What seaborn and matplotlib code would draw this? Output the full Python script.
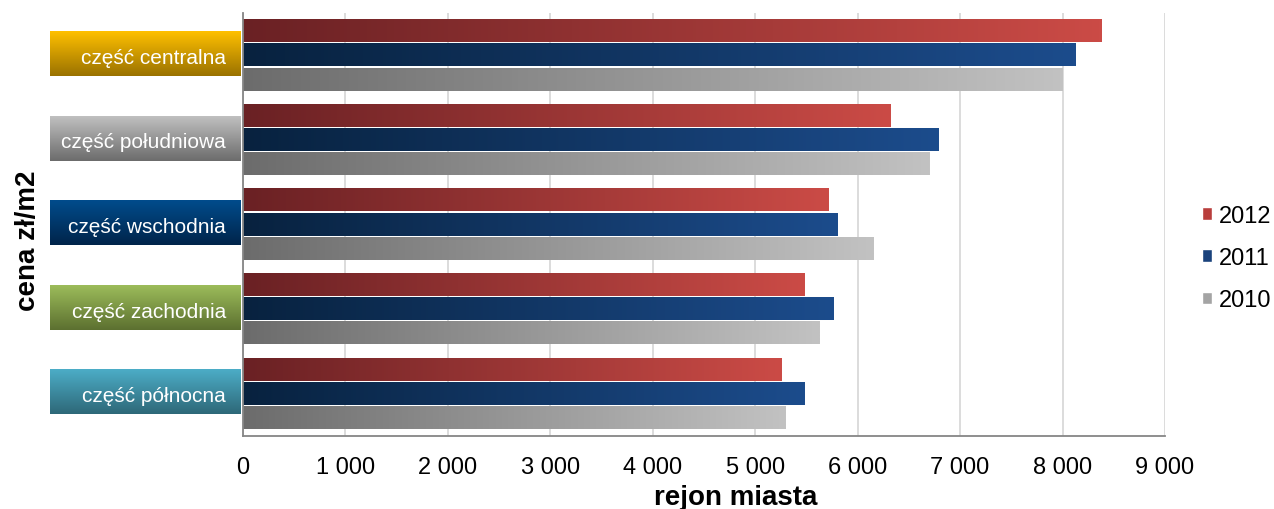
import numpy as np
import pandas as pd
import matplotlib
matplotlib.use("Agg")
import matplotlib.pyplot as plt
import matplotlib.transforms as mtransforms
import seaborn as sns
from matplotlib.colors import LinearSegmentedColormap
from matplotlib.patches import Patch
from matplotlib.ticker import FuncFormatter, FixedLocator

# ── Dane ──────────────────────────────────────────────────────────────────────

regions = ["część centralna", "część południowa", "część wschodnia",
           "część zachodnia", "część północna"]
years = ["2012", "2011", "2010"]
price_2012 = [8380, 6320, 5720, 5480, 5260]
price_2011 = [8130, 6790, 5800, 5760, 5480]
price_2010 = [8000, 6700, 6150, 5630, 5300]

# ── Kolory (gradienty) ───────────────────────────────────────────────────────

BAR_GRAD = {                       # lewy koniec -> prawy koniec
    "2012": ("#6A2124", "#CB4B46"),
    "2011": ("#08223F", "#1C4C8C"),
    "2010": ("#6C6C6C", "#C2C2C2"),
}
LEGEND_COL = {"2012": "#B93E3C", "2011": "#1A427C", "2010": "#A4A4A4"}
BOX_GRAD = [                       # góra -> dół
    ("#FFC000", "#9A7200"),
    ("#C0C0C0", "#6C6C6C"),
    ("#004C8C", "#00244A"),
    ("#9CBC5A", "#5C7030"),
    ("#4CADC7", "#2E6878"),
]
AXIS_COL = "#868686"
PX = 72 / 100                      # piksele -> punkty

sns.set_style("white")
plt.rcParams["font.family"] = ["Liberation Sans", "DejaVu Sans"]

df = pd.DataFrame({
    "rejon": regions * 3,
    "rok": [y for y in years for _ in regions],
    "cena": price_2012 + price_2011 + price_2010,
})

fig = plt.figure(figsize=(12.74, 5.10), dpi=100)
ax = fig.add_axes([243 / 1274, 73 / 510, 922 / 1274, 423 / 510])

sns.barplot(data=df, x="cena", y="rejon", hue="rok", hue_order=years,
            order=regions, orient="h", width=0.86, errorbar=None,
            saturation=1, legend=False, ax=ax)

# słupki -> gradient poziomy
grad_h = np.linspace(0, 1, 256).reshape(1, -1)
for year, cont in zip(years, ax.containers):
    cmap = LinearSegmentedColormap.from_list(year, BAR_GRAD[year])
    for p in cont.patches:
        x0, y0, w, h = p.get_x(), p.get_y(), p.get_width(), p.get_height()
        p.set_visible(False)
        ax.imshow(grad_h, cmap=cmap, aspect="auto", zorder=2,
                  extent=(x0, x0 + w, y0 + h - 0.012, y0 + 0.012))

# kolorowe pola pod etykietami kategorii
trans = mtransforms.blended_transform_factory(ax.transAxes, ax.transData)
grad_v = np.linspace(0, 1, 128).reshape(-1, 1)
for i, (top, bottom) in enumerate(BOX_GRAD):
    cmap = LinearSegmentedColormap.from_list(f"box{i}", [top, bottom])
    ax.imshow(grad_v, cmap=cmap, aspect="auto", transform=trans,
              clip_on=False, zorder=0,
              extent=(-0.2093, -0.0022, i + 0.245, i - 0.285))

ax.set_xlim(0, 9000)
ax.set_ylim(4.5, -0.5)

# siatka i osie
ax.set_axisbelow(True)
ax.grid(axis="x", color="#D9D9D9", lw=1.3)
ax.grid(axis="y", visible=False)
sns.despine(ax=ax)
for s in ("left", "bottom"):
    ax.spines[s].set_color(AXIS_COL)
    ax.spines[s].set_linewidth(1.3)

ax.xaxis.set_major_locator(FixedLocator(range(0, 9001, 1000)))
ax.xaxis.set_major_formatter(FuncFormatter(lambda v, _: f"{v:,.0f}".replace(",", " ")))
ax.tick_params(axis="x", direction="inout", length=8, width=1.2,
               color=AXIS_COL, labelsize=17, labelcolor="black", pad=9 * PX + 4)

ax.yaxis.set_minor_locator(FixedLocator(np.arange(-0.5, 5, 1.0)))
ax.tick_params(axis="y", which="major", length=0, pad=17 * PX,
               labelsize=15, labelcolor="white")
ax.tick_params(axis="y", which="minor", direction="out", length=6,
               width=1.2, color=AXIS_COL)

ax.set_xlabel("rejon miasta", fontsize=20, fontweight="bold", color="black")
ax.xaxis.set_label_coords(0.534, -0.1125)
ax.set_ylabel("cena zł/m2", fontsize=20, fontweight="bold", color="black")
ax.yaxis.set_label_coords(-0.2195, 0.463)

handles = [Patch(facecolor=LEGEND_COL[y]) for y in years]
fig.legend(handles, years, loc="center left",
           bbox_to_anchor=(1202 / 1274, 1 - 259 / 510), frameon=False,
           fontsize=17, handlelength=0.42, handleheight=0.42,
           handletextpad=0.3, labelspacing=0.85, borderpad=0,
           borderaxespad=0, labelcolor="black")

fig.savefig("out.png", dpi=100)
